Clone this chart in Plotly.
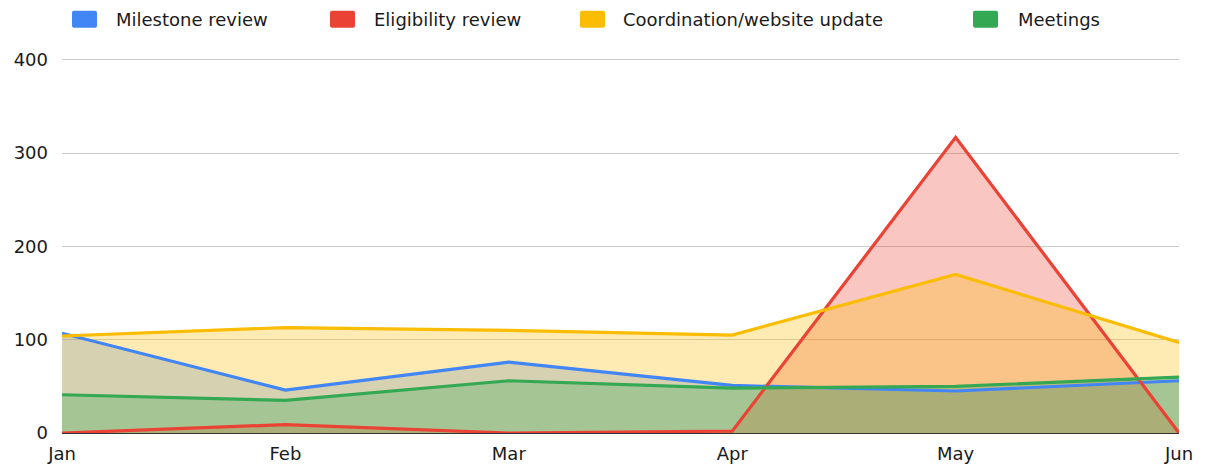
import re
import plotly.graph_objects as go

# ---- data ----
months = ["Jan", "Feb", "Mar", "Apr", "May", "Jun"]
milestone_review = [107, 46, 76, 51, 45, 56]
eligibility_review = [0, 9, 0, 2, 317, 0]
coordination_update = [104, 113, 110, 105, 170, 97]
meetings = [41, 35, 56, 48, 50, 60]
series_names = ["Milestone review", "Eligibility review",
                "Coordination/website update", "Meetings"]
y_tick_values = [0, 100, 200, 300, 400]

# ---- style ----
colors = ["#4285F4", "#EA4335", "#FBBC04", "#34A853"]
FONT = "DejaVu Sans"
W, H = 1209, 464
Y_MAX = 402
L, R, B = 62, 30, 31
T = 60 - 373 * (Y_MAX - 400) / 400
PW, PH = W - L - R, H - T - B


def hex_rgba(h, a):
    h = h.lstrip("#")
    r, g, b = int(h[0:2], 16), int(h[2:4], 16), int(h[4:6], 16)
    return f"rgba({r},{g},{b},{a})"


def px_x(p):
    return (p - L) / PW


def px_y(p):
    return (H - B - p) / PH


series = [milestone_review, eligibility_review, coordination_update, meetings]

fig = go.Figure()
# fills first
for name, vals, col in zip(series_names, series, colors):
    fig.add_trace(go.Scatter(
        x=months, y=vals, name=name, mode="lines",
        line=dict(color=col, width=0),
        fill="tozeroy", fillcolor=hex_rgba(col, 0.3),
        showlegend=False, hoverinfo="skip",
    ))
# lines on top
for name, vals, col in zip(series_names, series, colors):
    fig.add_trace(go.Scatter(
        x=months, y=vals, name=name, mode="lines",
        line=dict(color=col, width=3.2),
        showlegend=False,
    ))

# ---- manual legend (box + label) ----
box_left = [72, 330, 580, 973]
text_left = [114, 372, 621, 1016]
shapes = []
annotations = []


def conv(m):
    a, b = float(m.group(1)), float(m.group(2))
    return f"{px_x(a):.5f},{px_y(b):.5f}"


for i, (name, col) in enumerate(zip(series_names, colors)):
    x0, x1 = box_left[i], box_left[i] + 25
    y0, y1 = 11, 28
    r = 2
    path = (f"M{x0 + r},{y0} L{x1 - r},{y0} Q{x1},{y0} {x1},{y0 + r} "
            f"L{x1},{y1 - r} Q{x1},{y1} {x1 - r},{y1} L{x0 + r},{y1} "
            f"Q{x0},{y1} {x0},{y1 - r} L{x0},{y0 + r} Q{x0},{y0} {x0 + r},{y0} Z")
    ppath = re.sub(r"(-?\d+(?:\.\d+)?),(-?\d+(?:\.\d+)?)", conv, path)
    shapes.append(dict(type="path", path=ppath, xref="paper", yref="paper",
                       fillcolor=col, line=dict(width=0), layer="above"))
    annotations.append(dict(text=name, x=px_x(text_left[i]), y=px_y(19.5),
                            xref="paper", yref="paper", xanchor="left",
                            yanchor="middle", showarrow=False,
                            font=dict(family=FONT, size=18, color="#1a1a1a")))

fig.update_layout(
    width=W, height=H,
    margin=dict(l=L, r=R, t=T, b=B, pad=0, autoexpand=False),
    paper_bgcolor="white", plot_bgcolor="white",
    font=dict(family=FONT, size=18, color="#1a1a1a"),
    showlegend=False, hovermode=False,
    shapes=shapes, annotations=annotations,
    xaxis=dict(
        type="category", range=[0, len(months) - 1],
        showgrid=False, zeroline=False, showline=False,
        ticks="", ticklabelstandoff=8, automargin=False,
        tickfont=dict(family=FONT, size=18, color="#1a1a1a"),
        fixedrange=True,
    ),
    yaxis=dict(
        range=[0, Y_MAX], tickvals=y_tick_values,
        ticktext=[str(v) for v in y_tick_values],
        showgrid=True, gridcolor="#cccccc", gridwidth=1,
        zeroline=True, zerolinecolor="#333333", zerolinewidth=1,
        showline=False, ticks="", ticklabelstandoff=13, automargin=False,
        tickfont=dict(family=FONT, size=18, color="#1a1a1a"),
        fixedrange=True,
    ),
)

fig.write_html("out.html")
